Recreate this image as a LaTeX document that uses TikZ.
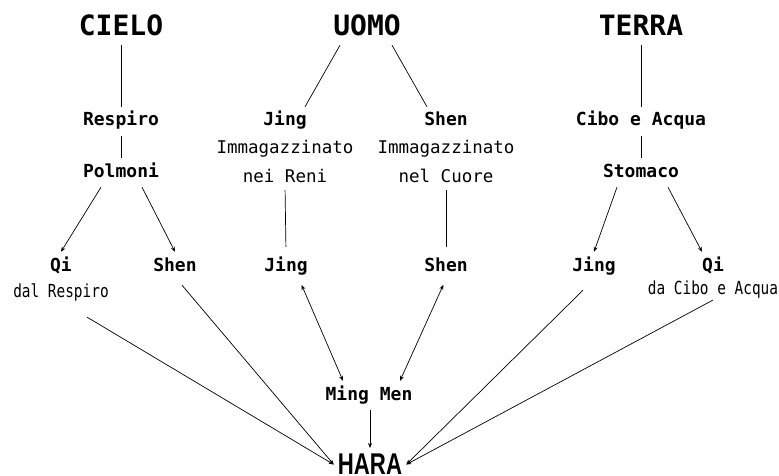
\documentclass[tikz,border=0pt]{standalone}
\usepackage{fontspec}
\usepackage{tikz}
\usetikzlibrary{positioning,arrows.meta}
\newfontfamily\monofont{DejaVu Sans Mono}
\newfontfamily\squeezefont{DejaVu Sans Mono}[FakeStretch=0.8]
\newfontfamily\harafont{Liberation Sans}[FakeStretch=0.74]

\begin{document}
\begin{tikzpicture}[x=1pt,y=-1pt]
		% 定义文字样式
		\tikzstyle{heading} = [font=\monofont\bfseries\fontsize{28}{30}\selectfont, anchor=base, text height=21pt, text depth=0pt, inner sep=9pt]	% 天 人 地
		\tikzstyle{organ} = [font=\monofont\bfseries\fontsize{18}{20}\selectfont, anchor=base, text height=13pt, text depth=4pt, inner sep=6pt]	% 粗体标签
		\tikzstyle{note} = [font=\monofont\fontsize{17.5}{29}\selectfont, align=center, inner sep=2pt]	% 说明文字
		\tikzstyle{source} = [font=\squeezefont\fontsize{18}{20}\selectfont, inner sep=2pt]	% 窄体说明
		\tikzstyle{hara} = [font=\harafont\bfseries\fontsize{30}{32}\selectfont, anchor=north, inner sep=4pt]	% 腹
		\tikzstyle{link} = [line width=0.7pt]	% 直线
		\tikzstyle{arrow} = [line width=0.7pt,-{Stealth[length=5pt,width=4pt]}]	% 箭头
		\tikzstyle{twoway} = [line width=0.7pt,{Stealth[length=5pt,width=4pt]}-{Stealth[length=5pt,width=4pt]}]	% 双向箭头
		\useasboundingbox (0,0) rectangle (779,476);
		\node (cielo) [heading] at (121,36) {CIELO};
		\node (uomo) [heading] at (367,36) {UOMO};
		\node (terra) [heading] at (641,36) {TERRA};
		\node (respiro) [organ] at (121,126) {Respiro};
		\node (polmoni) [organ] at (121,177) {Polmoni};
		\node (qiC) [organ] at (61,271) {Qi};
		\node (qiCnote) [source, below=0pt of qiC] {dal Respiro};
		\node (shenC) [organ] at (175,271) {Shen};
		\node (jingU) [organ] at (285,126) {Jing};
		\node (jingUnote) [note, below=2pt of jingU] {Immagazzinato\\nei Reni};
		\node (jingL) [organ] at (286,271) {Jing};
		\node (shenU) [organ] at (446,126) {Shen};
		\node (shenUnote) [note, below=2pt of shenU] {Immagazzinato\\nel Cuore};
		\node (shenL) [organ] at (446,271) {Shen};
		\node (cibo) [organ] at (641,126) {Cibo e Acqua};
		\node (stomaco) [organ] at (641,177) {Stomaco};
		\node (jingT) [organ] at (594,271) {Jing};
		\node (qiT) [organ] at (713,271) {Qi};
		\node (qiTnote) [source, below=-3pt of qiT] {da Cibo e Acqua};
		\node (mingmen) [organ] at (369,400) {Ming Men};
		\node (hara) [hara] at (370,450) {HARA};
		
		% 连接
		\draw [link](cielo.south) -- (respiro.north);
		\draw [link](respiro.south) -- (polmoni.north);
		\draw [arrow]([xshift=-20pt]polmoni.south) -- (qiC.north);
		\draw [arrow]([xshift=21pt]polmoni.south) -- (shenC.north);
		\draw [link]([xshift=-27pt]uomo.south) -- ([xshift=20pt]jingU.north);
		\draw [link]([xshift=25pt]uomo.south) -- ([xshift=-19pt]shenU.north);
		\draw [link,shorten <=5pt,shorten >=5pt](jingUnote.south) -- (jingL.north);
		\draw [link,shorten <=5pt,shorten >=5pt](shenUnote.south) -- (shenL.north);
		\draw [link](terra.south) -- (cibo.north);
		\draw [link](cibo.south) -- (stomaco.north);
		\draw [arrow]([xshift=-24pt]stomaco.south) -- (jingT.north);
		\draw [arrow]([xshift=27pt]stomaco.south) -- ([xshift=-11pt]qiT.north);
		\draw [twoway,shorten <=4pt]([xshift=14pt]jingL.south) -- ([xshift=-26pt]mingmen.north);
		\draw [twoway,shorten <=4pt]([xshift=-1pt]shenL.south) -- ([xshift=31pt]mingmen.north);
		\draw [arrow,shorten >=2pt](hara.north |- mingmen.south) -- (hara.north);
		\draw [arrow]([xshift=26pt,yshift=-14pt]qiCnote.south) -- (hara.west);
		\draw [arrow]([xshift=7pt,yshift=-4pt]shenC.south) -- (hara.west);
		\draw [arrow]([xshift=-11pt,yshift=-9pt]jingT.south) -- (hara.east);
		\draw [arrow](qiTnote.south) -- (hara.east);
	\end{tikzpicture}
\end{document}
